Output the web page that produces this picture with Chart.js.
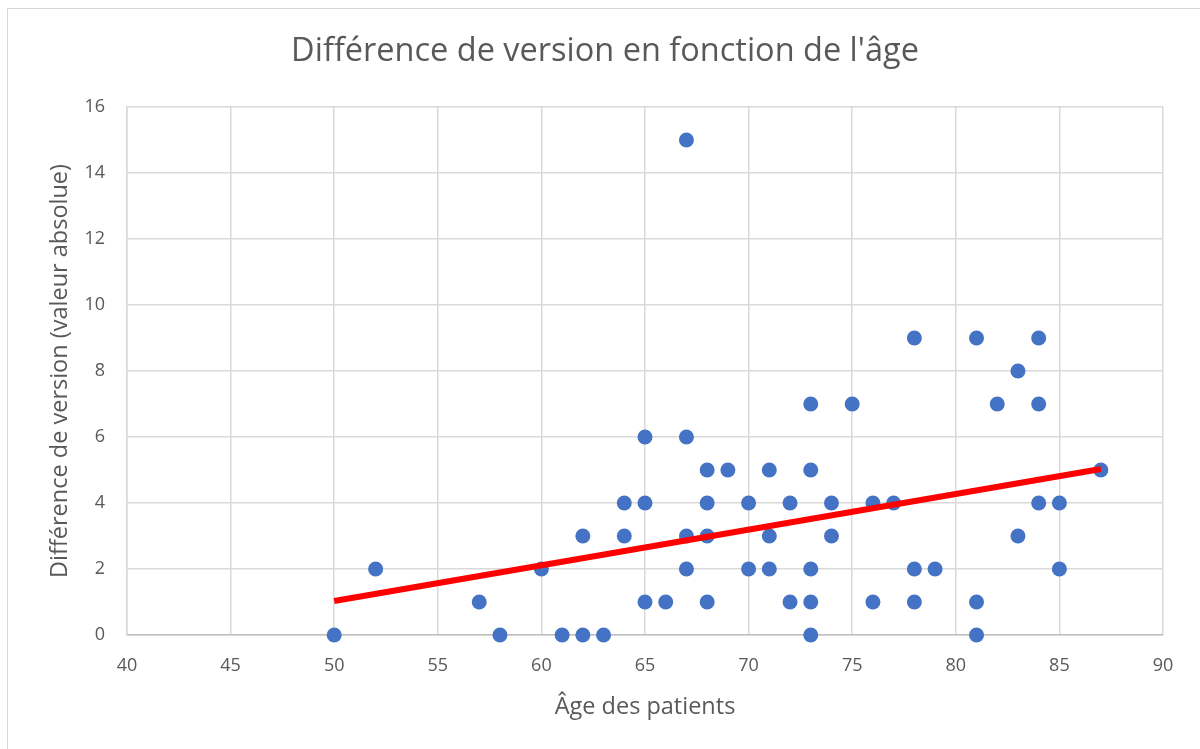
<!DOCTYPE html>
<html lang="fr">
<head>
<meta charset="utf-8">
<script src="https://cdn.jsdelivr.net/npm/chart.js@4/dist/chart.umd.min.js"></script>
<style>
    html, body { margin: 0; padding: 0; background: #ffffff; overflow: hidden; }
    #cadre { position: absolute; left: 7px; top: 8px; width: 1250px; height: 800px; border: 1px solid #d9d9d9; }
    #zone { position: absolute; left: 0; top: 0; width: 1200px; height: 749px; }
</style>
</head>
<body>
<div id="cadre"></div>
<div id="zone"><canvas id="graphique" width="1200" height="749"></canvas></div>
<script>
"use strict";

// âge des patients (x)
const ages = [
    50, 52, 57, 58, 60, 61, 62, 63, 62, 64, 64, 65, 65, 65, 66,
    67, 67, 67, 67, 68, 68, 68, 68, 69, 70, 70, 71, 71, 71, 72, 72,
    73, 73, 73, 73, 73, 74, 74, 75, 76, 76, 77, 78, 78, 78, 79,
    81, 81, 81, 82, 83, 83, 84, 84, 84, 85, 85, 87
];
// différence de version (y)
const differences = [
    0, 2, 1, 0, 2, 0, 0, 0, 3, 4, 3, 6, 4, 1, 1,
    15, 6, 3, 2, 5, 4, 3, 1, 5, 4, 2, 5, 3, 2, 4, 1,
    7, 5, 2, 1, 0, 4, 3, 7, 4, 1, 4, 9, 2, 1, 2,
    9, 1, 0, 7, 8, 3, 9, 7, 4, 4, 2, 5
];
// courbe de tendance
const tendanceX = [50, 87];
const tendanceY = [1.03, 5.03];
// graduations
const xTicks = [40, 45, 50, 55, 60, 65, 70, 75, 80, 85, 90];
const yTicks = [0, 2, 4, 6, 8, 10, 12, 14, 16];

const titre = "Différence de version en fonction de l'âge";
const titreX = "Âge des patients";
const titreY = "Différence de version (valeur absolue)";

const points = ages.map((a, i) => ({ x: a, y: differences[i] }));
const tendance = tendanceX.map((a, i) => ({ x: a, y: tendanceY[i] }));

const police = "'Open Sans', 'Liberation Sans', sans-serif";
const gris = "#595959";

// titre centré sur le cadre entier (comme Excel)
const titrePlugin = {
    id: "titreCadre",
    afterDraw(chart) {
        const c = chart.ctx;
        c.save();
        c.fillStyle = gris;
        c.font = "32.5px " + police;
        c.textAlign = "center";
        c.textBaseline = "middle";
        c.fillText(titre, 605, 52);
        c.restore();
    }
};

const ctx = document.getElementById("graphique");
new Chart(ctx, {
    type: "scatter",
    data: {
        datasets: [
            {
                type: "line",
                data: tendance,
                borderColor: "#ff0000",
                borderWidth: 6,
                pointRadius: 0,
                fill: false,
                clip: false,
                order: 0
            },
            {
                data: points,
                backgroundColor: "#4472c4",
                borderColor: "#4472c4",
                pointRadius: 7.5,
                pointBorderWidth: 0,
                clip: false,
                order: 1
            }
        ]
    },
    plugins: [titrePlugin],
    options: {
        responsive: false,
        animation: false,
        layout: { padding: { left: 0, right: 37, top: 107, bottom: 0 } },
        plugins: {
            legend: { display: false },
            tooltip: { enabled: false },
            title: { display: false }
        },
        scales: {
            x: {
                type: "linear",
                min: 40,
                max: 90,
                afterBuildTicks: axis => { axis.ticks = xTicks.map(v => ({ value: v })); },
                afterFit: axis => { axis.height = 114; },
                grid: { color: "#d9d9d9", lineWidth: 1.5, drawTicks: false },
                border: { color: "#bfbfbf", width: 1.5 },
                ticks: {
                    color: gris,
                    padding: 20,
                    font: { family: police, size: 18 }
                },
                title: {
                    display: true,
                    text: titreX,
                    color: gris,
                    font: { family: police, size: 23.5 },
                    padding: { top: 0, bottom: 28 }
                }
            },
            y: {
                type: "linear",
                min: 0,
                max: 16,
                afterBuildTicks: axis => { axis.ticks = yTicks.map(v => ({ value: v })); },
                afterFit: axis => { axis.width = 127; },
                grid: { color: "#d9d9d9", lineWidth: 1.5, drawTicks: false },
                border: { color: "#d9d9d9", width: 1.5 },
                ticks: {
                    color: gris,
                    padding: 22,
                    font: { family: police, size: 18 }
                },
                title: {
                    display: true,
                    text: titreY,
                    color: gris,
                    font: { family: police, size: 23.5 },
                    padding: { top: 46, bottom: 0 }
                }
            }
        }
    }
});
</script>
</body>
</html>
